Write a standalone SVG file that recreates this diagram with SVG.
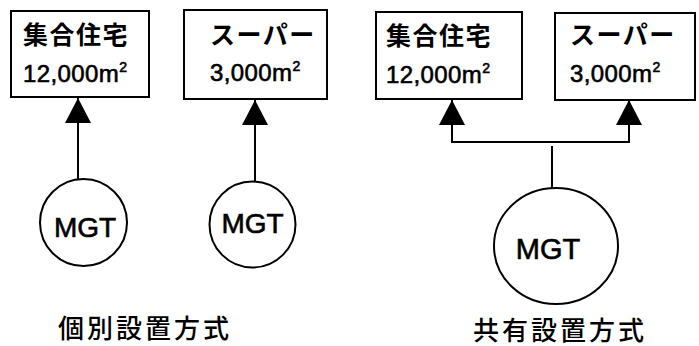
<svg xmlns="http://www.w3.org/2000/svg" width="699" height="346" viewBox="0 0 699 346">
<style>
.box{fill:#fff;stroke:#000;stroke-width:2}
.gen{fill:#fff;stroke:#000;stroke-width:2}
.ln{fill:none;stroke:#000;stroke-width:2}
.jp{font-family:"Noto Sans CJK JP","Noto Sans CJK SC",sans-serif;font-size:25px;font-weight:700;letter-spacing:1.5px;fill:#000}
.num{font-family:"Liberation Sans",Arial,sans-serif;font-size:24px;letter-spacing:0.4px;fill:#000;stroke:#000;stroke-width:0.6}
.sup{font-size:14px;letter-spacing:0}
.mgt{font-family:"Liberation Sans",Arial,sans-serif;font-size:28px;fill:#000;stroke:#000;stroke-width:0.6;text-anchor:middle}
.cap{font-family:"Noto Sans CJK JP","Noto Sans CJK SC",sans-serif;font-size:26px;font-weight:500;letter-spacing:3px;fill:#000}
</style>
<defs>
<marker id="ah" viewBox="0 0 25 26" refX="25" refY="13" markerWidth="25" markerHeight="26" markerUnits="userSpaceOnUse" orient="auto">
<path d="M0,0 L25,13 L0,26 z" fill="#000"/>
</marker>
</defs>
<rect width="699" height="346" fill="#fff"/>

<g id="connectors">
<line class="ln" x1="78" y1="179" x2="78" y2="98" marker-end="url(#ah)"/>
<line class="ln" x1="255" y1="181" x2="255" y2="100" marker-end="url(#ah)"/>
<path class="ln" d="M552,142 H452 V100" marker-end="url(#ah)"/>
<path class="ln" d="M552,142 H629 V100" marker-end="url(#ah)"/>
<line class="ln" x1="552" y1="146" x2="552" y2="189"/>
</g>

<g id="house1">
<rect class="box" x="11" y="11" width="138" height="86"/>
<text class="jp" x="23" y="44">集合住宅</text>
<text class="num" x="23" y="82">12,000m<tspan class="sup" dy="-10">2</tspan></text>
</g>
<g id="super1">
<rect class="box" x="184" y="10" width="143" height="89"/>
<text class="jp" x="210" y="44">スーパー</text>
<text class="num" x="210" y="81">3,000m<tspan class="sup" dy="-10">2</tspan></text>
</g>
<g id="house2">
<rect class="box" x="376" y="12" width="146" height="87"/>
<text class="jp" x="386" y="45">集合住宅</text>
<text class="num" x="386" y="83">12,000m<tspan class="sup" dy="-10">2</tspan></text>
</g>
<g id="super2">
<rect class="box" x="555" y="13" width="140" height="87"/>
<text class="jp" x="570" y="44">スーパー</text>
<text class="num" x="570" y="82">3,000m<tspan class="sup" dy="-10">2</tspan></text>
</g>

<g id="mgt1">
<circle class="gen" cx="83.5" cy="222.5" r="43.5"/>
<text class="mgt" x="85" y="237">MGT</text>
</g>
<g id="mgt2">
<circle class="gen" cx="252.5" cy="224.5" r="43"/>
<text class="mgt" x="252.5" y="233">MGT</text>
</g>
<g id="mgt3">
<ellipse class="gen" cx="556" cy="246" rx="62" ry="58"/>
<text class="mgt" x="548" y="259" style="font-size:29px">MGT</text>
</g>

<g id="labels">
<text class="cap" x="58" y="338">個別設置方式</text>
<text class="cap" x="473" y="340">共有設置方式</text>
</g>
</svg>
